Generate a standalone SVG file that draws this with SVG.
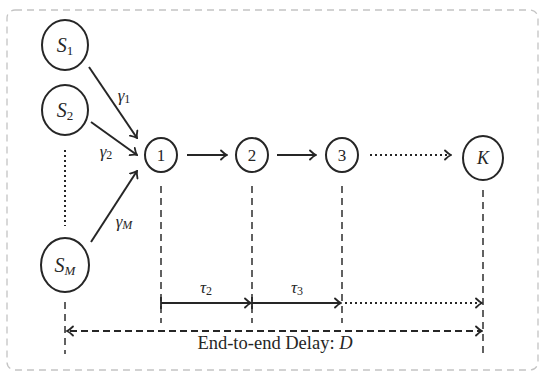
<svg xmlns="http://www.w3.org/2000/svg" width="544" height="374" viewBox="0 0 544 374">
  <style>
    .node { fill: #fff; stroke: #262626; stroke-width: 2; }
    .lbl { font-family: "Liberation Serif", "DejaVu Serif", serif; fill: #262626; text-anchor: middle; }
    .it { font-style: italic; }
    .sub { font-style: normal; }
    .edge { stroke: #262626; stroke-width: 2; fill: none; }
    .dot { stroke-dasharray: 2 3; }
    .dash { stroke-dasharray: 7 4; }
    .guide { stroke: #2e2e2e; stroke-width: 1.5; stroke-dasharray: 7 5; fill: none; }
  </style>
  <defs>
    <marker id="to" viewBox="-6 -6 8 12" markerWidth="8" markerHeight="12" refX="1" refY="0" orient="auto" markerUnits="userSpaceOnUse">
      <path d="M -5 -4.5 Q -1.5 -1 1 0 Q -1.5 1 -5 4.5" fill="none" stroke="#262626" stroke-width="1.8" stroke-linecap="round"/>
    </marker>
    <marker id="bar" viewBox="-1 -7 2 14" markerWidth="2" markerHeight="14" refX="0" refY="0" orient="auto" markerUnits="userSpaceOnUse">
      <path d="M 0 -6 V 6" stroke="#262626" stroke-width="1.8"/>
    </marker>
  </defs>

  <!-- outer frame -->
  <rect x="7" y="10" width="531" height="360" rx="8" fill="none" stroke="#c4c4c4" stroke-width="1.3" stroke-dasharray="7 5"/>

  <g id="connectors">
    <!-- sources into node 1 -->
    <path class="edge" d="M 89 67 L 137 138" marker-end="url(#to)"/>
    <path class="edge" d="M 91 122 L 137 155" marker-end="url(#to)"/>
    <path class="edge" d="M 91 242 L 137 171" marker-end="url(#to)"/>
    <!-- chain -->
    <path class="edge" d="M 187 155 L 227 155" marker-end="url(#to)"/>
    <path class="edge" d="M 277 155 L 316 155" marker-end="url(#to)"/>
    <path class="edge dot" d="M 370 155 L 451 155" marker-end="url(#to)"/>
    <!-- vertical ellipsis between sources -->
    <path class="edge dot" d="M 65 150 L 65 226"/>
    <!-- time guides -->
    <path class="guide" d="M 161 186 V 323"/>
    <path class="guide" d="M 252 186 V 323"/>
    <path class="guide" d="M 342 186 V 323"/>
    <path class="guide" d="M 483 190 V 354"/>
    <path class="guide" d="M 65 302 V 354"/>
    <!-- per-hop delays -->
    <path class="edge" d="M 161 303 L 251 303" marker-start="url(#bar)" marker-end="url(#to)"/>
    <path class="edge" d="M 252 303 L 341 303" marker-start="url(#bar)" marker-end="url(#to)"/>
    <path class="edge dot" d="M 345 303 L 482 303" marker-end="url(#to)"/>
    <!-- end-to-end delay -->
    <path class="edge dash" d="M 70 331 L 482 331" marker-end="url(#to)"/>
    <path d="M 73 326.5 Q 69.5 330 67 331 Q 69.5 332 73 335.5" fill="none" stroke="#262626" stroke-width="1.8" stroke-linecap="round"/>
  </g>

  <g id="S1">
    <ellipse class="node" cx="65" cy="45" rx="23" ry="25"/>
    <text class="lbl it" x="65" y="52" font-size="20">S<tspan class="sub" dy="3" font-size="13">1</tspan></text>
  </g>
  <g id="S2">
    <ellipse class="node" cx="65" cy="110" rx="23" ry="25"/>
    <text class="lbl it" x="65" y="117" font-size="20">S<tspan class="sub" dy="3" font-size="13">2</tspan></text>
  </g>
  <g id="SM">
    <ellipse class="node" cx="65" cy="265" rx="24" ry="27"/>
    <text class="lbl it" x="65" y="272" font-size="20">S<tspan dy="3" font-size="13">M</tspan></text>
  </g>
  <g id="n1">
    <ellipse class="node" cx="161" cy="155" rx="16" ry="17"/>
    <text class="lbl" x="161" y="161" font-size="17">1</text>
  </g>
  <g id="n2">
    <ellipse class="node" cx="252" cy="155" rx="16" ry="17"/>
    <text class="lbl" x="252" y="161" font-size="17">2</text>
  </g>
  <g id="n3">
    <ellipse class="node" cx="342" cy="155" rx="16" ry="17"/>
    <text class="lbl" x="342" y="161" font-size="17">3</text>
  </g>
  <g id="nK">
    <ellipse class="node" cx="483" cy="158" rx="20" ry="22"/>
    <text class="lbl it" x="483" y="164" font-size="18">K</text>
  </g>

  <g id="labels">
    <text class="lbl it" x="124" y="101" font-size="17">γ<tspan class="sub" dy="2" font-size="12">1</tspan></text>
    <text class="lbl it" x="106" y="157" font-size="17">γ<tspan class="sub" dy="2" font-size="12">2</tspan></text>
    <text class="lbl it" x="124" y="227" font-size="17">γ<tspan dy="2" font-size="12">M</tspan></text>
    <text class="lbl it" x="206" y="293" font-size="17">τ<tspan class="sub" dy="2" font-size="12">2</tspan></text>
    <text class="lbl it" x="297" y="293" font-size="17">τ<tspan class="sub" dy="2" font-size="12">3</tspan></text>
    <text class="lbl" x="275" y="349" font-size="18.5">End-to-end Delay: <tspan class="it">D</tspan></text>
  </g>
</svg>
